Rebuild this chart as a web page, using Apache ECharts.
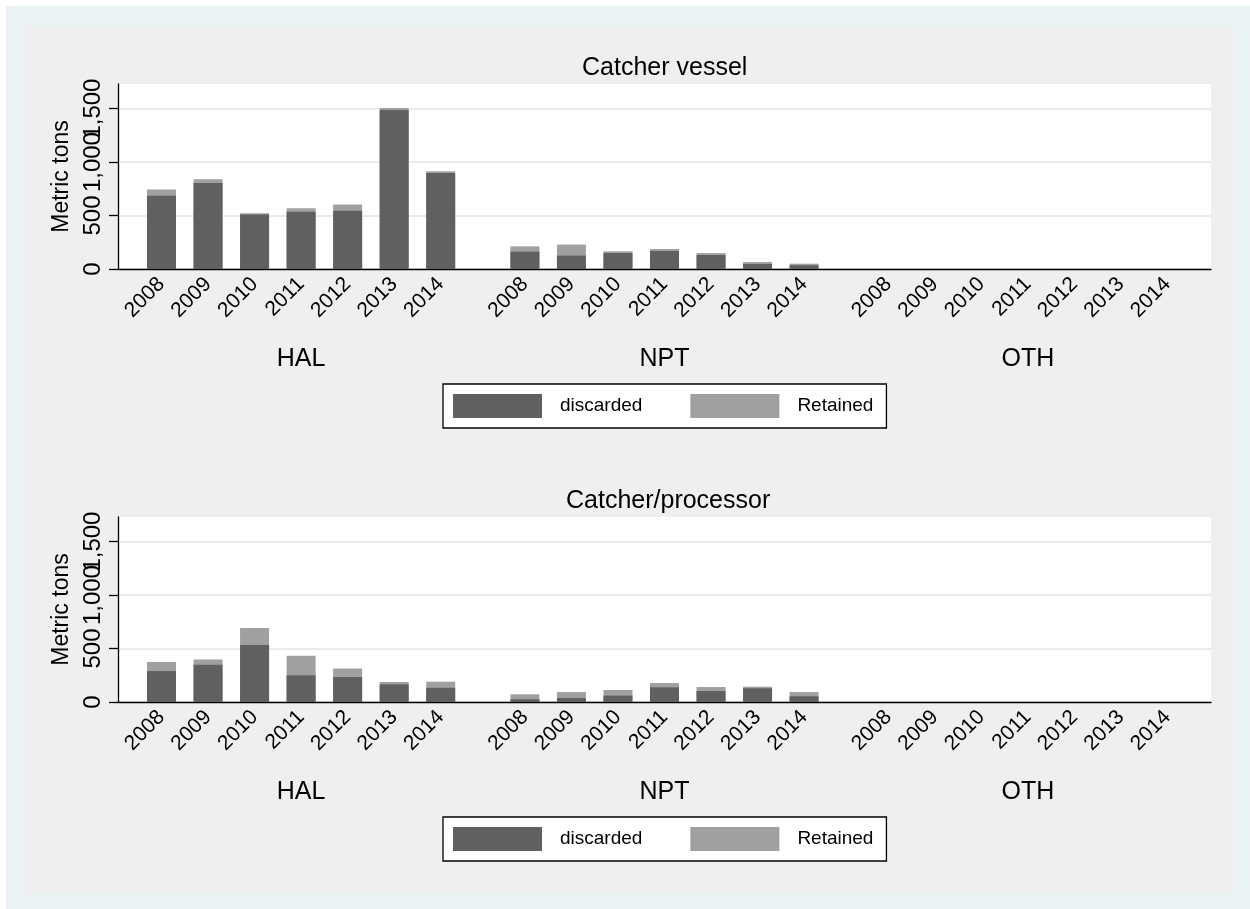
<!doctype html>
<html>
<head>
<meta charset="utf-8" />
<script src="https://cdn.jsdelivr.net/npm/echarts@6/dist/echarts.min.js"></script>
<style>
html, body { margin: 0; padding: 0; background: #fff; }
#chart { width: 1250px; height: 909px; }
</style>
</head>
<body>
<div id="chart"></div>
<script>
// Values (metric tons).
const years = ['2008', '2009', '2010', '2011', '2012', '2013', '2014'];
const groups = ['HAL', 'NPT', 'OTH'];
const yTicks = [0, 500, 1000, 1500];

const cvDiscardHAL = [684, 805, 510, 535, 544, 1486, 898];
const cvRetainHAL = [59, 35, 12, 34, 60, 19, 16];
const cvDiscardNPT = [162, 125, 149, 168, 131, 47, 35];
const cvRetainNPT = [50, 103, 16, 19, 18, 18, 15];
const cvDiscardOTH = [0, 0, 0, 0, 0, 0, 0];
const cvRetainOTH = [0, 0, 0, 0, 0, 0, 0];

const cpDiscardHAL = [289, 348, 532, 249, 233, 165, 133];
const cpRetainHAL = [84, 50, 161, 183, 81, 22, 57];
const cpDiscardNPT = [25, 37, 60, 137, 103, 128, 53];
const cpRetainNPT = [47, 56, 52, 40, 37, 15, 40];
const cpDiscardOTH = [0, 0, 0, 0, 0, 0, 0];
const cpRetainOTH = [0, 0, 0, 0, 0, 0, 0];

const fontFamily = '"Liberation Sans", Arial, Helvetica, sans-serif';
const darkGray = '#606060';
const lightGray = '#a0a0a0';

// Bars sit on a value axis so the gap between groups can be wider than one year step.
const groupGap = 1.81;
const edgePad = 0.935;
const groupStride = years.length - 1 + groupGap;
const xMin = -edgePad;
const xMax = (groups.length - 1) * groupStride + years.length - 1 + edgePad;
const yMax = 1730;

function slot(groupIndex, yearIndex) {
  return groupIndex * groupStride + yearIndex;
}

const yearSlots = [];
const yearSlotLabels = [];
groups.forEach((g, gi) => {
  years.forEach((y, yi) => {
    yearSlots.push(slot(gi, yi));
    yearSlotLabels.push(y);
  });
});
const groupCenters = groups.map((g, gi) => slot(gi, (years.length - 1) / 2));

function nearestLabel(value, slots, labels) {
  let best = 0;
  slots.forEach((s, i) => {
    if (Math.abs(s - value) < Math.abs(slots[best] - value)) {
      best = i;
    }
  });
  return labels[best];
}

// [slot, value] pairs; when a base is given the bar top is base + value (stacked look).
function pairs(valuesByGroup, baseByGroup) {
  const out = [];
  valuesByGroup.forEach((values, gi) => {
    values.forEach((v, yi) => {
      const base = baseByGroup ? baseByGroup[gi][yi] : 0;
      out.push([slot(gi, yi), base + v]);
    });
  });
  return out;
}

const panels = [
  { title: 'Catcher vessel', top: 84, titleTop: 51, titleLeft: 577, legendTop: 384,
    discard: [cvDiscardHAL, cvDiscardNPT, cvDiscardOTH], retain: [cvRetainHAL, cvRetainNPT, cvRetainOTH] },
  { title: 'Catcher/processor', top: 517, titleTop: 484, titleLeft: 561, legendTop: 817,
    discard: [cpDiscardHAL, cpDiscardNPT, cpDiscardOTH], retain: [cpRetainHAL, cpRetainNPT, cpRetainOTH] }
];

const axisLine = { show: true, onZero: false, lineStyle: { color: '#000', width: 1.3 } };

function yLabel(values) {
  return {
    customValues: values,
    rotate: 90,
    margin: 13,
    fontSize: 24,
    color: '#000',
    fontFamily: fontFamily,
    hideOverlap: false,
    formatter: v => v.toLocaleString('en-US')
  };
}

const option = {
  animation: false,
  backgroundColor: '#fff',
  textStyle: { fontFamily: fontFamily },
  graphic: [
    { type: 'rect', z: -20, silent: true, shape: { x: 6, y: 6, width: 1244, height: 903 }, style: { fill: '#eaf2f3' } },
    { type: 'rect', z: -19, silent: true, shape: { x: 26, y: 26, width: 1209, height: 868 }, style: { fill: '#efefef' } }
  ],
  title: panels.map(p => ({
    text: p.title,
    left: p.titleLeft,
    top: p.titleTop,
    textStyle: { fontSize: 25, fontWeight: 'normal', color: '#000', fontFamily: fontFamily }
  })),
  legend: panels.map(p => ({
    data: ['discarded', 'Retained'],
    left: 443,
    top: p.legendTop,
    orient: 'horizontal',
    icon: 'rect',
    itemWidth: 89,
    itemHeight: 24,
    itemGap: 48,
    padding: [10, 13, 10, 10],
    borderColor: '#000',
    borderWidth: 1.3,
    borderRadius: 0,
    backgroundColor: '#fff',
    selectedMode: false,
    textStyle: { fontSize: 19, color: '#000', fontFamily: fontFamily, padding: [0, 0, 0, 13] }
  })),
  grid: panels.map(p => ({
    left: 118,
    right: 39,
    top: p.top,
    height: 185,
    show: true,
    backgroundColor: '#fff',
    borderWidth: 0
  })),
  xAxis: [],
  yAxis: [],
  series: []
};

panels.forEach((p, pi) => {
  // Two left axes share the grid: the labels alternate between them so the
  // touching "1,0001,500" labels are not dropped by overlap handling.
  option.yAxis.push({
    type: 'value',
    gridIndex: pi,
    position: 'left',
    min: 0,
    max: yMax,
    name: 'Metric tons',
    nameLocation: 'middle',
    nameRotate: 90,
    nameGap: 30,
    nameTextStyle: { fontSize: 23, color: '#000', fontFamily: fontFamily },
    axisLine: axisLine,
    axisTick: { show: true, inside: false, length: 9, customValues: yTicks, lineStyle: { color: '#000', width: 1.3 } },
    axisLabel: yLabel(yTicks.filter((t, i) => i % 2 === 0)),
    splitLine: { show: true, lineStyle: { color: '#e6ecee', width: 2 } }
  });
  option.yAxis.push({
    type: 'value',
    gridIndex: pi,
    position: 'left',
    offset: 0,
    min: 0,
    max: yMax,
    axisLine: { show: false, onZero: false },
    axisTick: { show: false },
    axisLabel: yLabel(yTicks.filter((t, i) => i % 2 === 1)),
    splitLine: { show: false }
  });
  option.xAxis.push({
    type: 'value',
    gridIndex: pi,
    position: 'bottom',
    min: xMin,
    max: xMax,
    axisLine: axisLine,
    axisTick: { show: false },
    splitLine: { show: false },
    axisLabel: {
      customValues: yearSlots,
      rotate: 45,
      margin: 12,
      fontSize: 21,
      color: '#000',
      fontFamily: fontFamily,
      hideOverlap: false,
      formatter: v => nearestLabel(v, yearSlots, yearSlotLabels)
    }
  });
  option.xAxis.push({
    type: 'value',
    gridIndex: pi,
    position: 'bottom',
    min: xMin,
    max: xMax,
    axisLine: { show: false, onZero: false },
    axisTick: { show: false },
    splitLine: { show: false },
    axisLabel: {
      customValues: groupCenters,
      margin: 78,
      fontSize: 25,
      color: '#000',
      fontFamily: fontFamily,
      formatter: v => nearestLabel(v, groupCenters, groups)
    }
  });
  // Retained is drawn first as the full column, discarded is laid over its lower part.
  option.series.push({
    name: 'Retained',
    type: 'bar',
    xAxisIndex: pi * 2,
    yAxisIndex: pi * 2,
    barWidth: 29,
    barGap: '-100%',
    itemStyle: { color: lightGray },
    data: pairs(p.retain, p.discard)
  });
  option.series.push({
    name: 'discarded',
    type: 'bar',
    xAxisIndex: pi * 2,
    yAxisIndex: pi * 2,
    barWidth: 29,
    barGap: '-100%',
    itemStyle: { color: darkGray },
    data: pairs(p.discard)
  });
});

const chart = echarts.init(document.getElementById('chart'), null, { renderer: 'canvas' });
chart.setOption(option);
</script>
</body>
</html>
